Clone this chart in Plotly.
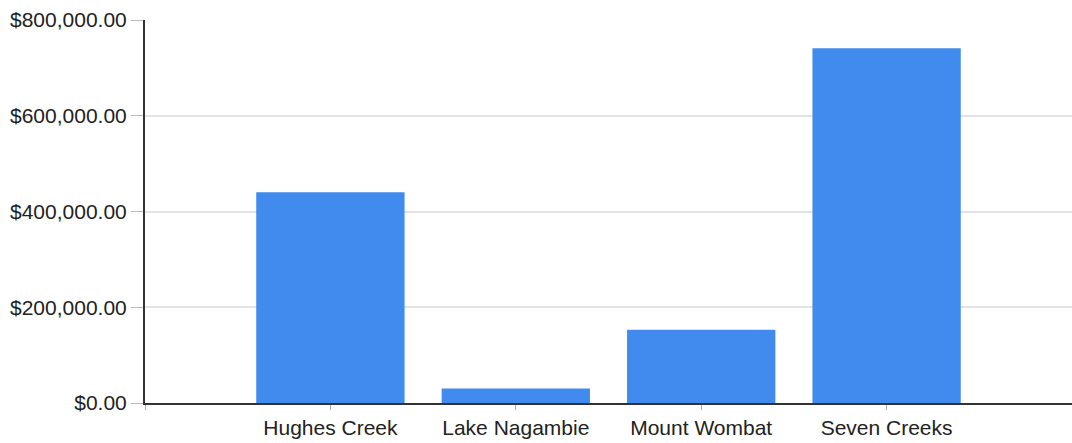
import plotly.graph_objects as go

categories = ["Hughes Creek", "Lake Nagambie", "Mount Wombat", "Seven Creeks"]
values = [440000, 30500, 153000, 741000]
y_ticks = [0, 200000, 400000, 600000, 800000]

positions = list(range(1, len(categories) + 1))

fig = go.Figure(
    go.Bar(
        x=positions,
        y=values,
        width=0.8,
        marker=dict(color="#428BEE", line=dict(width=0)),
        hovertext=categories,
    )
)

font_family = "Liberation Sans, Arial, sans-serif"

fig.update_layout(
    width=1072,
    height=443,
    autosize=False,
    margin=dict(l=145, r=0, t=20, b=40),
    paper_bgcolor="white",
    plot_bgcolor="white",
    showlegend=False,
    font=dict(family=font_family, size=21, color="#222222"),
    bargap=0.2,
)

fig.update_xaxes(
    range=[0, len(categories) + 1],
    tickmode="array",
    tickvals=[0] + positions,
    ticktext=[""] + categories,
    showgrid=False,
    zeroline=False,
    showline=True,
    linecolor="#333333",
    linewidth=2,
    ticks="outside",
    ticklen=5,
    tickcolor="#aaaaaa",
    tickwidth=1,
    tickfont=dict(size=21, color="#222222"),
)

fig.update_yaxes(
    range=[0, 800000],
    tickmode="array",
    tickvals=y_ticks,
    tickformat="$,.2f",
    showgrid=True,
    gridcolor="#e3e3e3",
    gridwidth=1.5,
    zeroline=False,
    showline=True,
    linecolor="#333333",
    linewidth=2,
    ticks="outside",
    ticklen=12,
    tickcolor="#bbbbbb",
    tickwidth=1,
    tickfont=dict(size=21, color="#222222"),
)

post = (
    "document.body.style.margin='0';"
    "document.body.style.overflow='hidden';"
    "var gd=document.getElementById('{plot_id}');"
    "Plotly.relayout(gd,{width:1072,height:443});"
)

fig.write_html(
    "out.html",
    post_script=post,
    config={"responsive": False, "displayModeBar": False},
)
